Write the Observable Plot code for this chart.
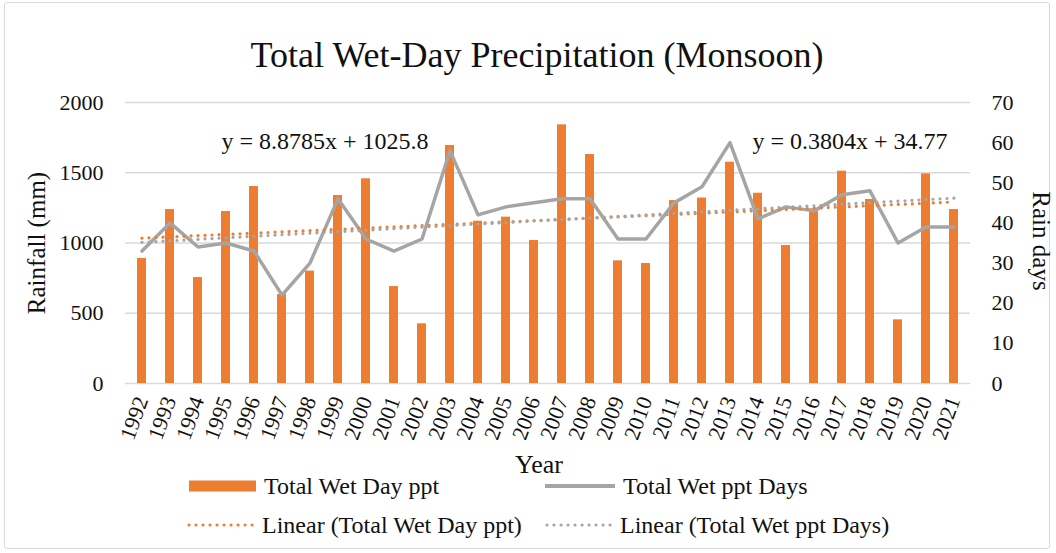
<!DOCTYPE html>
<html>
<head>
<meta charset="utf-8">
<script src="https://cdn.jsdelivr.net/npm/d3@7"></script>
<script src="https://cdn.jsdelivr.net/npm/@observablehq/plot@0.6"></script>
<style>
  html, body { margin: 0; padding: 0; background: #fff; }
  body { width: 1056px; height: 553px; position: relative; overflow: hidden; font-family: "Liberation Serif", "Times New Roman", serif; color: #111; }
  #frame { position: absolute; left: 4px; top: 2px; width: 1046px; height: 547px; border: 1px solid #d9d9d9; border-radius: 3px; box-sizing: border-box; }
  .abs { position: absolute; white-space: nowrap; }
  #title { left: 537px; top: 55px; font-size: 36px; line-height: 40px; transform: translate(-50%, -50%); }
  #chart { position: absolute; left: 0; top: 80px; }
  #ylab { left: 37px; top: 243px; font-size: 25px; line-height: 28px; transform: translate(-50%, -50%) rotate(-90deg); }
  #ylab2 { left: 1041px; top: 241px; font-size: 25px; line-height: 28px; transform: translate(-50%, -50%) rotate(90deg); }
  #xlab { left: 539px; top: 465px; font-size: 26px; line-height: 28px; transform: translate(-50%, -50%); }
  .leg { font-size: 24px; line-height: 28px; display: flex; align-items: center; transform: translateY(-50%); }
  .leg svg { margin-right: 8px; }
</style>
</head>
<body>
<div id="frame"></div>
<div id="title" class="abs">Total Wet-Day Precipitation (Monsoon)</div>
<div id="chart"></div>
<div id="ylab" class="abs">Rainfall (mm)</div>
<div id="ylab2" class="abs">Rain days</div>
<div id="xlab" class="abs">Year</div>
<div class="abs leg" style="left:189px; top:486px;"><svg width="67" height="12"><rect x="0" y="0.5" width="67" height="11" fill="#ED7D31"/></svg>Total Wet Day ppt</div>
<div class="abs leg" style="left:545px; top:486px;"><svg width="70" height="12"><line x1="0" y1="6" x2="70" y2="6" stroke="#A5A5A5" stroke-width="4"/></svg>Total Wet ppt Days</div>
<div class="abs leg" style="left:187px; top:525px;"><svg width="67" height="12"><line x1="2" y1="6" x2="66" y2="6" stroke="#ED7D31" stroke-width="3.2" stroke-linecap="round" stroke-dasharray="0.01 7"/></svg>Linear (Total Wet Day ppt)</div>
<div class="abs leg" style="left:545px; top:525px;"><svg width="67" height="12"><line x1="2" y1="6" x2="66" y2="6" stroke="#A5A5A5" stroke-width="3.2" stroke-linecap="round" stroke-dasharray="0.01 7"/></svg>Linear (Total Wet ppt Days)</div>
<script>
// ---- data ----
const years = ["1992","1993","1994","1995","1996","1997","1998","1999","2000","2001",
               "2002","2003","2004","2005","2006","2007","2008","2009","2010","2011",
               "2012","2013","2014","2015","2016","2017","2018","2019","2020","2021"];
const rainfall = [890,1238,754,1224,1402,633,800,1338,1457,690,
                  425,1694,1155,1184,1018,1841,1630,873,854,1302,
                  1320,1575,1354,982,1243,1511,1310,453,1492,1238];
const rainDays = [33,40,34,35,33,22,30,46,36,33,
                  36,58,42,44,45,46,46,36,36,45,
                  49,60,41,44,43,47,48,35,39,39];
const leftTicks = [0,500,1000,1500,2000];
const rightTicks = [0,10,20,30,40,50,60,70];
// trendline coefficients as shown on chart (x = 1..30)
const trendRain = {slope: 8.8785, intercept: 1025.8, label: "y = 8.8785x + 1025.8"};
const trendDays = {slope: 0.3804, intercept: 34.77, label: "y = 0.3804x + 34.77"};

const yMax = 2000, dMax = 70;
const toLeft = d => d * yMax / dMax;

const rows = years.map((y, i) => ({
  year: y, rain: rainfall[i], days: rainDays[i],
  trendRain: trendRain.slope * (i + 1) + trendRain.intercept,
  trendDays: trendDays.slope * (i + 1) + trendDays.intercept
}));

const font = "Liberation Serif, Times New Roman, serif";
const chart = Plot.plot({
  width: 1056,
  height: 400,
  marginLeft: 125,
  marginRight: 86,
  marginTop: 22,
  marginBottom: 97,
  style: {fontFamily: font, fontSize: "22px", color: "#111", background: "transparent", overflow: "visible"},
  x: {type: "band", domain: years, paddingInner: 0.68, paddingOuter: 0.34},
  y: {domain: [0, yMax]},
  marks: [
    Plot.gridY(leftTicks, {stroke: "#d9d9d9", strokeOpacity: 1, strokeWidth: 1.5}),
    Plot.barY(rows, {x: "year", y: "rain", fill: "#ED7D31"}),
    Plot.line(rows, {x: "year", y: d => toLeft(d.days), stroke: "#A5A5A5", strokeWidth: 3.5}),
    Plot.line(rows, {x: "year", y: "trendRain", stroke: "#ED7D31", strokeWidth: 3.2, strokeLinecap: "round", strokeDasharray: "0.01 7"}),
    Plot.line(rows, {x: "year", y: d => toLeft(d.trendDays), stroke: "#A5A5A5", strokeWidth: 3.2, strokeLinecap: "round", strokeDasharray: "0.01 7"}),
    Plot.axisY({anchor: "left", ticks: leftTicks, tickFormat: d => String(d), tickSize: 0, tickPadding: 22, label: null, fontSize: 22}),
    Plot.axisY({anchor: "right", ticks: rightTicks.map(toLeft), tickFormat: v => String(Math.round(v * dMax / yMax)), tickSize: 0, tickPadding: 21, label: null, fontSize: 22}),
    Plot.axisX({tickRotate: -70, tickSize: 0, tickPadding: 14, label: null, fontSize: 22}),
    Plot.text([trendRain.label], {x: () => "1998", y: () => 1722, dx: 15, text: d => d, fontSize: 24, fill: "#111"}),
    Plot.text([trendDays.label], {x: () => "2017", y: () => 1722, dx: 8, text: d => d, fontSize: 24, fill: "#111"})
  ]
});
document.getElementById("chart").appendChild(chart);
</script>
</body>
</html>
